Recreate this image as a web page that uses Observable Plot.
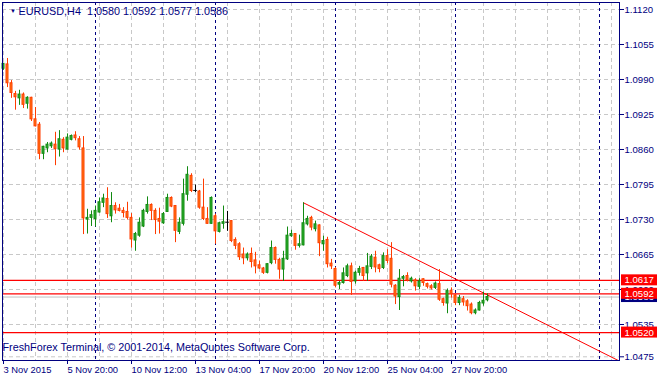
<!DOCTYPE html>
<html><head><meta charset="utf-8">
<script src="https://cdn.jsdelivr.net/npm/d3@7"></script>
<script src="https://cdn.jsdelivr.net/npm/@observablehq/plot@0.6"></script>
<style>
html,body{margin:0;padding:0;background:#fff;}
#chart{width:659px;height:378px;overflow:hidden;}
svg{display:block;}
</style></head><body><div id="chart"></div>
<script>
const symbolTitle = "EURUSD,H4\u00a0\u00a01.0580 1.0592 1.0577 1.0586";
const footerText = "FreshForex Terminal, \u00a9 2001-2014, MetaQuotes Software Corp.";

const opens = [1.1010,1.1018,1.0983,1.0963,1.0955,1.0962,1.0945,1.0956,1.0916,1.0906,
1.0852,1.0862,1.0866,1.0869,1.0860,1.0878,1.0860,1.0878,1.0886,1.0879,
1.0862,1.0730,1.0733,1.0731,1.0743,1.0761,1.0768,1.0736,1.0755,1.0750,
1.0746,1.0744,1.0733,1.0691,1.0700,1.0717,1.0744,1.0757,1.0746,1.0731,
1.0723,1.0744,1.0770,1.0755,1.0707,1.0722,1.0776,1.0811,1.0784,1.0782,
1.0752,1.0731,1.0722,1.0736,1.0707,1.0722,1.0725,1.0727,1.0692,1.0684,
1.0665,1.0658,1.0666,1.0654,1.0645,1.0639,1.0631,1.0649,1.0677,1.0655,
1.0637,1.0656,1.0699,1.0703,1.0681,1.0682,1.0721,1.0733,1.0712,1.0719,
1.0684,1.0692,1.0648,1.0638,1.0609,1.0612,1.0625,1.0643,1.0615,1.0631,
1.0640,1.0630,1.0642,1.0659,1.0645,1.0640,1.0662,1.0657,1.0607,1.0586,
1.0620,1.0625,1.0615,1.0617,1.0605,1.0619,1.0610,1.0606,1.0603,1.0610,
1.0582,1.0574,1.0597,1.0589,1.0575,1.0582,1.0578,1.0572,1.0556,1.0561,
1.0574,1.0580];
const highs = [1.1020,1.1029,1.0988,1.0968,1.0970,1.0965,1.0958,1.0957,1.0938,1.0910,
1.0866,1.0873,1.0874,1.0892,1.0895,1.0882,1.0889,1.0887,1.0893,1.0884,
1.0884,1.0749,1.0746,1.0755,1.0770,1.0777,1.0789,1.0780,1.0761,1.0758,
1.0752,1.0762,1.0741,1.0706,1.0733,1.0749,1.0772,1.0759,1.0750,1.0751,
1.0743,1.0777,1.0772,1.0756,1.0733,1.0805,1.0828,1.0815,1.0794,1.0784,
1.0805,1.0752,1.0772,1.0740,1.0725,1.0755,1.0745,1.0728,1.0696,1.0687,
1.0677,1.0668,1.0677,1.0669,1.0653,1.0641,1.0648,1.0690,1.0679,1.0658,
1.0671,1.0716,1.0710,1.0704,1.0701,1.0761,1.0736,1.0736,1.0727,1.0720,
1.0699,1.0697,1.0656,1.0641,1.0615,1.0640,1.0647,1.0649,1.0634,1.0643,
1.0641,1.0667,1.0665,1.0671,1.0647,1.0668,1.0674,1.0687,1.0609,1.0637,
1.0626,1.0631,1.0623,1.0620,1.0620,1.0620,1.0612,1.0609,1.0614,1.0637,
1.0584,1.0601,1.0603,1.0591,1.0589,1.0587,1.0581,1.0575,1.0564,1.0578,
1.0595,1.0592];
const lows = [1.1007,1.0975,1.0955,1.0933,1.0942,1.0936,1.0935,1.0912,1.0902,1.0841,
1.0841,1.0854,1.0862,1.0830,1.0846,1.0854,1.0859,1.0876,1.0876,1.0859,
1.0702,1.0703,1.0717,1.0716,1.0742,1.0752,1.0732,1.0724,1.0740,1.0744,
1.0733,1.0729,1.0677,1.0671,1.0697,1.0715,1.0740,1.0728,1.0702,1.0703,
1.0721,1.0743,1.0752,1.0687,1.0702,1.0718,1.0764,1.0780,1.0780,1.0749,
1.0728,1.0721,1.0721,1.0684,1.0705,1.0712,1.0708,1.0687,1.0674,1.0654,
1.0646,1.0653,1.0640,1.0629,1.0637,1.0628,1.0629,1.0646,1.0647,1.0619,
1.0615,1.0654,1.0697,1.0673,1.0677,1.0681,1.0718,1.0709,1.0707,1.0661,
1.0671,1.0640,1.0637,1.0603,1.0600,1.0610,1.0622,1.0589,1.0610,1.0625,
1.0615,1.0615,1.0637,1.0631,1.0631,1.0637,1.0648,1.0603,1.0572,1.0561,
1.0605,1.0614,1.0612,1.0597,1.0600,1.0606,1.0601,1.0599,1.0600,1.0578,
1.0569,1.0555,1.0584,1.0570,1.0570,1.0569,1.0560,1.0553,1.0553,1.0560,
1.0569,1.0577];
const closes = [1.1019,1.0983,1.0965,1.0957,1.0962,1.0943,1.0956,1.0916,1.0903,1.0852,
1.0865,1.0869,1.0871,1.0861,1.0879,1.0862,1.0882,1.0885,1.0881,1.0864,
1.0732,1.0733,1.0738,1.0746,1.0762,1.0769,1.0740,1.0755,1.0747,1.0746,
1.0742,1.0733,1.0693,1.0703,1.0724,1.0746,1.0757,1.0746,1.0729,1.0726,
1.0740,1.0770,1.0754,1.0709,1.0724,1.0777,1.0813,1.0783,1.0784,1.0752,
1.0731,1.0722,1.0770,1.0708,1.0723,1.0725,1.0725,1.0690,1.0681,1.0660,
1.0658,1.0665,1.0651,1.0643,1.0639,1.0631,1.0647,1.0677,1.0655,1.0637,
1.0657,1.0700,1.0703,1.0681,1.0684,1.0723,1.0731,1.0715,1.0721,1.0686,
1.0690,1.0647,1.0643,1.0607,1.0612,1.0630,1.0643,1.0614,1.0631,1.0638,
1.0625,1.0643,1.0661,1.0641,1.0638,1.0662,1.0653,1.0609,1.0587,1.0620,
1.0623,1.0617,1.0620,1.0606,1.0615,1.0612,1.0605,1.0602,1.0611,1.0581,
1.0575,1.0597,1.0592,1.0575,1.0584,1.0576,1.0569,1.0556,1.0561,1.0575,
1.0579,1.0586];

const tickBars = [0,16,32,48,64,80,96,112];
const tickLabels = ["3 Nov 2015","5 Nov 20:00","10 Nov 12:00","13 Nov 04:00","17 Nov 20:00","20 Nov 12:00","25 Nov 04:00","27 Nov 20:00"];
const separatorBars = [23,53,83,113,149];
const priceTicks = [1.1120,1.1055,1.0990,1.0925,1.0860,1.0795,1.0730,1.0665,1.0600,1.0535,1.0475];
const levelPrices = [1.0617,1.0592,1.0520];
const bidPrice = 1.0586;
const trendBars = [75,154];
const trendPrices = [1.0761,1.0467];

// ---- styles ----
const NAVY = "#000080";
const FONT = "'Liberation Sans', Arial, sans-serif";
const upStroke = "#118a11", upFill = "#2eb02e";
const dnStroke = "#ff3c00", dnFill = "#ff7a14";

const candles = opens.map((o, i) => ({i, o, h: highs[i], l: lows[i], c: closes[i]}));
const kind = d => d.c > d.o ? "up" : d.c < d.o ? "down" : "doji";
const strokeOf = d => ({up: upStroke, down: dnStroke, doji: "#000000"})[kind(d)];
const fillOf = d => ({up: upFill, down: dnFill, doji: "#000000"})[kind(d)];
const bodies = candles.filter(d => kind(d) !== "doji");
const dojis = candles.filter(d => kind(d) === "doji");
const gridBars = d3.range(0, 154, 8);
const trend = trendBars.map((b, k) => ({b, p: trendPrices[k]}));

const plot = Plot.plot({
  width: 659, height: 378,
  marginLeft: 2, marginRight: 40, marginTop: 2, marginBottom: 18,
  x: {type: "linear", domain: [-0.25, 154], axis: null},
  y: {type: "linear", domain: [1.046814, 1.11330], axis: null},
  color: {type: "identity"},
  style: {fontFamily: FONT, background: "#fff", overflow: "visible"},
  marks: [
    Plot.ruleX(gridBars, {stroke: "#c8c8c8", strokeDasharray: "4,3"}),
    Plot.ruleY(priceTicks, {stroke: "#c8c8c8", strokeDasharray: "4,3"}),
    Plot.ruleX(separatorBars, {stroke: NAVY, strokeDasharray: "3,3"}),
    Plot.ruleY([bidPrice], {stroke: "#c0c0c0"}),
    Plot.ruleY(levelPrices, {stroke: "#ff0000", strokeWidth: 1.3}),
    Plot.line(trend, {x: "b", y: "p", stroke: "#ff0000", strokeWidth: 1, clip: true}),
    Plot.ruleX(candles, {x: "i", y1: "l", y2: "h", stroke: strokeOf}),
    Plot.rect(bodies, {x1: d => d.i - 0.25, x2: d => d.i + 0.25,
      y1: d => Math.min(d.o, d.c), y2: d => Math.max(d.o, d.c),
      fill: fillOf, stroke: strokeOf, strokeWidth: 1}),
    Plot.ruleY(dojis, {y: "c", x1: d => d.i - 0.45, x2: d => d.i + 0.45, stroke: "#000000"}),
    Plot.frame({stroke: NAVY}),
    Plot.axisY(priceTicks, {anchor: "right", tickSize: 4, tickPadding: 1,
      tickFormat: d3.format(".4f"), color: NAVY, fontSize: 9.6, label: null}),
    Plot.axisX(tickBars, {anchor: "bottom", tickSize: 4, tickPadding: 2, textAnchor: "start",
      tickFormat: d => tickLabels[tickBars.indexOf(d)], color: NAVY, fontSize: 9.4, label: null}),
    Plot.text([symbolTitle], {frameAnchor: "top-left", dx: 16, dy: 9, lineAnchor: "middle",
      textAnchor: "start", fill: NAVY, fontSize: 10.8}),
    Plot.text(["\u25BC"], {frameAnchor: "top-left", dx: 7.5, dy: 9, lineAnchor: "middle",
      fill: NAVY, fontSize: 6}),
    Plot.text([footerText], {frameAnchor: "bottom-left", dx: 0, dy: -13, lineAnchor: "middle",
      textAnchor: "start", fill: NAVY, fontSize: 10.8})
  ]
});

// price labels on the right axis, placed through the plot's own y scale
const ys = plot.scale("y");
const g = d3.select(plot).append("g")
  .attr("font-family", FONT).attr("font-size", 9.6).attr("text-anchor", "start");
function priceBox(p, color) {
  const yy = ys.apply(p);
  g.append("rect").attr("x", 621).attr("y", yy - 5.5).attr("width", 36).attr("height", 11).attr("fill", color);
  g.append("text").attr("x", 624.5).attr("y", yy).attr("dy", "0.36em").attr("fill", "#fff")
    .attr("text-anchor", "start").text(d3.format(".4f")(p));
}
priceBox(bidPrice, NAVY);
levelPrices.forEach(p => priceBox(p, "#ff0000"));

document.getElementById("chart").appendChild(plot);
</script></body></html>
